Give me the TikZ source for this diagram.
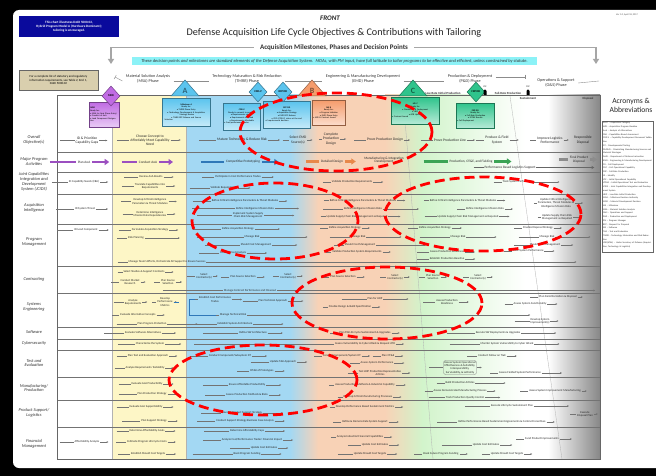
\documentclass[tikz,border=0pt]{standalone}
\usepackage{fontspec}
\setmainfont{Carlito}
\usetikzlibrary{shapes.geometric,arrows.meta}
\definecolor{ybg}{HTML}{FDF6C6}
\definecolor{bbg}{HTML}{A3D8F3}
\definecolor{pbg}{HTML}{F8D2B6}
\definecolor{gbg}{HTML}{D2F4CB}
\definecolor{navy}{HTML}{0A0A9C}
\definecolor{tanbox}{HTML}{D9CFAE}
\definecolor{cyanstrip}{HTML}{8CF2F7}
\definecolor{purp}{HTML}{C06BE3}
\definecolor{bluem}{HTML}{5BC4EE}
\definecolor{orangem}{HTML}{F59C6C}
\definecolor{greenm}{HTML}{2FC48C}
\definecolor{redl}{HTML}{FF0000}
\definecolor{mpurp}{HTML}{9B4FC0}
\definecolor{mblue}{HTML}{2F78B8}
\definecolor{morange}{HTML}{E8884A}
\definecolor{mgreen}{HTML}{3BA455}
\tikzset{
  act/.style={font=\fontsize{2.9}{3.3}\selectfont, align=center, inner sep=0.8pt, text=black!85},
  big/.style={act, font=\fontsize{3.4}{3.8}\selectfont},
  obj/.style={act, font=\fontsize{3.6}{4.1}\selectfont},
  actl/.style={draw=black!55, line width=0.28pt},
  acta/.style={actl, -{Stealth[length=1.8pt,width=1.7pt]}},
  rowlbl/.style={font=\fontsize{4.4}{4.9}\selectfont\itshape, align=center, text=black!80},
  rowline/.style={draw=black!55, line width=0.5pt},
  colline/.style={draw=black!30, line width=0.3pt},
  redell/.style={draw=redl, line width=2.8pt, dash pattern=on 10pt off 5pt},
  msbox/.style={draw=#1!60!black, line width=0.5pt, top color=#1, bottom color=#1!35, font=\fontsize{2.2}{2.6}\selectfont, align=left, inner sep=1pt, anchor=north west},
  phase/.style={font=\fontsize{4.2}{4.7}\selectfont, align=center, text=black!80},
  tline/.style={draw=black!45, line width=0.4pt},
  hdrarrow/.style={draw=black!35, line width=1.3pt, -{Triangle[length=5pt,width=6pt]}},
  diam/.style={diamond, draw=#1!60!black, fill=#1, line width=0.5pt, inner sep=0pt, minimum width=18pt, minimum height=20pt, font=\fontsize{2.8}{3}\selectfont\bfseries},
  tri/.style={draw=#1!60!black, fill=#1, line width=0.5pt},
  trilbl/.style={font=\fontsize{8}{8}\selectfont\bfseries, text=#1!50!black},
  hdr/.style={font=\fontsize{3.1}{3.5}\selectfont\bfseries, text=black!80},
}
\newcommand{\actx}[7][act]{%
  \node[#1] (#2) at (#3,#4) {#5};
  \draw[actl] ([xshift=-#6pt]#2.west) -- (#2.west);
  \draw[acta] (#2.east) -- ([xshift=#7pt]#2.east);}
\newcommand{\bigx}[7]{%
  \node[big] (#2) at (#3,#4) {#5};
  \draw[draw=#1, line width=2.6pt] ([xshift=-#6pt]#2.west) -- ([xshift=-1pt]#2.west);
  \draw[draw=#1, line width=2.6pt, -{Triangle[length=4.5pt,width=6pt]}] ([xshift=1pt]#2.east) -- ([xshift=#7pt]#2.east);}
\begin{document}
\begin{tikzpicture}[x=1pt,y=-1pt]
\useasboundingbox (0,0) rectangle (656,476);
% frame
\fill[black] (0,0) rectangle (656,476);
\fill[white, rounded corners=6pt] (13,10) rectangle (680,468);

% ---------- header ----------
\node[fill=navy, text=white, font=\fontsize{3.3}{3.9}\selectfont\bfseries, align=center, minimum width=100pt, minimum height=21pt, inner sep=0] (chartnote) at (69,26.5) {This chart illustrates DoDI 5000.02,\\Hybrid Program Model A (Hardware Dominant);\\tailoring is encouraged.};
\node[font=\fontsize{7}{8}\selectfont\bfseries\itshape, text=black!85] (front) at (330,18) {FRONT};
\node[font=\fontsize{2.4}{3}\selectfont, text=black!70] (ver) at (627,15) {Ver 1.0, April 18, 2017};
\node[font=\fontsize{10.2}{11}\selectfont, text=black!85] (title) at (334,33) {Defense Acquisition Life Cycle Objectives \& Contributions with Tailoring};
\node[font=\fontsize{7}{8}\selectfont\bfseries, text=black!80] (sub) at (334,47.5) {Acquisition Milestones, Phases and Decision Points};
\coordinate (hlEnd) at (111,64);
\coordinate (hrEnd) at (596,64);
\draw[hdrarrow] ([xshift=-3pt]sub.west) -| (hlEnd);
\draw[hdrarrow] ([xshift=3pt]sub.east) -| (hrEnd);
\node[fill=cyanstrip, font=\fontsize{4.5}{5}\selectfont\itshape, text=black!80, minimum width=405pt, minimum height=8pt, inner sep=0] (strip) at (334.5,61.5) {These decision points and milestones are standard elements of the Defense Acquisition System.\ \ MDAs, with PM input, have full latitude to tailor programs to be effective and efficient, unless constrained by statute.};
\node[fill=tanbox, draw=black!60, line width=0.4pt, font=\fontsize{3.1}{3.7}\selectfont, align=center, minimum width=79pt, minimum height=20pt, inner sep=0] (reqnote) at (58.5,80) {For a complete list of statutory and regulatory\\information requirements, see Table 2, Encl 1,\\DoDI 5000.02};

% phase timeline
\node[phase] (phMSA) at (148,79) {Material Solution Analysis\\(MSA) Phase};
\node[phase] (phTMRR) at (247,79) {Technology Maturation \& Risk Reduction\\(TMRR) Phase};
\node[phase] (phEMD) at (363,79) {Engineering \& Manufacturing Development\\(EMD) Phase};
\node[phase] (phPD) at (470,79) {Production \& Deployment\\(P\&D) Phase};
\node[phase] (phOS) at (556,83) {Operations \& Support\\(O\&S) Phase};
\coordinate (tl0) at (115,77);
\coordinate (tlEnd) at (599,81);
\draw[tline, |-] (tl0) -- ([yshift=-2pt]phMSA.west);
\draw[tline] ([yshift=-2pt]phMSA.east) -- ([yshift=-2pt]phTMRR.west);
\draw[tline] ([yshift=-2pt]phTMRR.east) -- ([yshift=-2pt]phEMD.west);
\draw[tline] ([yshift=-2pt]phEMD.east) -- ([yshift=-2pt]phPD.west);
\draw[tline, -|] ([yshift=2pt]phPD.east) -- ++(30,0);
\draw[tline] (phOS.east) -- (tlEnd);

% ---------- chart backgrounds ----------
\fill[white] (57,95) rectangle (600,459);
\fill[ybg] (112,95) rectangle (186,459);
\fill[bbg] (186,95) rectangle (290,459);
\shade[left color=bbg, right color=pbg] (290,95) rectangle (318,459);
\fill[pbg] (318,95) rectangle (385,459);
\shade[left color=pbg, right color=gbg] (385,95) rectangle (422,459);
\shade[left color=gbg, right color=white] (422,95) rectangle (525,459);
\shade[left color=white, right color=black!47] (548,95) rectangle (600,459);
\draw[colline] (403,96) -- (433,459);
\draw[colline] (510,96) -- (562,459);
\draw[colline] (112,95) -- (112,459);
\draw[colline] (186,95) -- (186,459);
\foreach \yy in {152,172,194,224,266,293,327,339,350,377,400,427}
  \draw[rowline] (57,\yy) -- (600,\yy);
\draw[draw=black!60, line width=0.6pt] (57,95) rectangle (600,459);

% ---------- milestone boxes ----------
\node[msbox=purp, text width=28pt, minimum height=25pt] (bMDD) at (89,102) {\textbf{MDD}\\Ready for:\\\textbullet\ MSA (or Next Phase Entry)\\\textbullet\ Conduct of AoA\\\textbullet\ Lead Component Designation};
\node[msbox=bluem, text width=46pt, minimum height=28pt] (bA) at (162,98) {\centering\textbf{Milestone A}\par Ready for:\\\textbullet\ TMRR Phase Entry\\\textbullet\ Technology Development \& Acquisition\\\ \ Strategy Review\\\textbullet\ TMRR RFP Release and Source\\\ \ Selection};
\node[msbox=bluem, text width=35pt, minimum height=27pt] (bCDDV) at (223,103) {\centering\textbf{CDD-V}\par Ready to commit to product:\\\textbullet\ Requirements specific\\\textbullet\ Requirements validated\\\textbullet\ Requirements affordable\\\textbullet\ Cost/performance trades};
\node[msbox=bluem, text width=45pt, minimum height=27pt] (bRFP) at (263,101) {\centering\textbf{RFP DD}\par Ready for:\\\textbullet\ Acquisition Strategy\\\textbullet\ EMD RFP Release\\\textbullet\ CDD (CDD-V) status at the end\\\ \ of requirements decision};
\node[msbox=orangem, text width=31pt, minimum height=25pt] (bB) at (312,100) {\centering\textbf{MS B}\par Ready for:\\\textbullet\ Program Initiation\\\textbullet\ EMD Phase Entry\\\textbullet\ APB \& Contract Award};
\node[msbox=greenm, text width=46pt, minimum height=27pt] (bC) at (391,97) {\centering\textbf{MS C}\par Ready for:\\\textbullet\ Production \& Deployment\\\textbullet\ LRIP\\\textbullet\ APB Update\\\textbullet\ Contract Award};
\node[msbox=greenm, text width=36pt, minimum height=25pt] (bFRP) at (456,103) {\centering\textbf{FRP DD}\par Ready for:\\\textbullet\ Full-Rate Production\\\textbullet\ IOT\&E Results\\\textbullet\ Full Deployment};

% milestone markers
\node[diam=purp] (mMDD) at (111,96) {MDD};
\filldraw[tri=bluem] (171,96) -- (185,80) -- (199,96) -- cycle;
\node[trilbl=bluem] (mA) at (185,90.5) {A};
\node[diam=bluem] (mCDDV) at (258,92) {CDD-V};
\node[diam=bluem] (mRFP) at (283,92) {RFP DD};
\filldraw[tri=orangem] (298,96) -- (312,80) -- (326,96) -- cycle;
\node[trilbl=orangem] (mB) at (312,90.5) {B};
\filldraw[tri=greenm] (399,96) -- (413,80) -- (427,96) -- cycle;
\node[trilbl=greenm] (mC) at (413,90.5) {C};
\node[diam=greenm] (mFRP) at (476,92) {FRP DD};
\node[hdr] (lrip) at (443,93) {Low-Rate Initial Production};
\node[hdr] (frp) at (508,93) {Full-Rate Production};
\node[hdr, font=\fontsize{2.4}{2.6}\selectfont] (ioc) at (485,86.5) {IOC};
\node[hdr, font=\fontsize{2.4}{2.6}\selectfont] (foc) at (528,86.5) {FOC};
\fill[black] (483.5,95) -- (486.5,95) -- (486.5,91) -- (485,89.3) -- (483.5,91) -- cycle;
\fill[black] (526.5,95) -- (529.5,95) -- (529.5,91) -- (528,89.3) -- (526.5,91) -- cycle;
\node[hdr] (sust) at (528,98.5) {Sustainment};
\node[hdr] (disp) at (588,98.5) {Disposal};

% ---------- row labels ----------
\node[rowlbl] (L1) at (34,140) {Overall\\Objective(s)};
\node[rowlbl] (L2) at (34,161.5) {Major Program\\Activities};
\node[rowlbl] (L3) at (34,182) {Joint Capabilities\\Integration and\\Development\\System (JCIDS)};
\node[rowlbl] (L4) at (34,208) {Acquisition\\Intelligence};
\node[rowlbl] (L5) at (34,242) {Program\\Management};
\node[rowlbl] (L6) at (34,279) {Contracting};
\node[rowlbl] (L7) at (34,307) {Systems\\Engineering};
\node[rowlbl] (L8) at (34,332) {Software};
\node[rowlbl] (L9) at (34,343.5) {Cybersecurity};
\node[rowlbl] (L10) at (34,363) {Test and\\Evaluation};
\node[rowlbl] (L11) at (34,388) {Manufacturing/\\Production};
\node[rowlbl] (L12) at (34,413) {Product Support/\\Logistics};
\node[rowlbl] (L13) at (34,444) {Financial\\Management};

% ---------- Overall objectives ----------
\actx[obj]{o1}{87}{140.5}{ID \& Prioritize\\Capability Gaps}{15}{8}
\actx[obj]{o2}{150}{140}{Choose Concept to\\Affordably Meet Capability\\Need}{12}{10}
\actx[obj]{o3}{242}{140}{Mature Technology \& Reduce Risk}{17}{12}
\actx[obj]{o4}{298}{140}{Select EMD\\Source(s)}{6}{5}
\actx[obj]{o5}{331}{139}{Complete\\Production\\Design}{3}{6}
\actx[obj]{o6}{385}{140}{Prove Production Design}{12}{6}
\actx[obj]{o7}{450}{140}{Prove Production Line}{12}{8}
\actx[obj]{o8}{497}{140}{Produce \& Field\\System}{8}{9}
\actx[obj]{o9}{550}{140}{Improve Logistics\\Performance}{6}{5}
\node[obj] (o10) at (583,140) {Responsible\\Disposal};

% ---------- Major program activities ----------
\bigx{mpurp}{m1}{84}{162}{Plan AoA}{27}{18}
\bigx{mpurp}{m2}{148}{162}{Conduct AoA}{16}{15}
\bigx{mblue}{m3}{243}{162}{Competitive Prototyping}{24}{18}
\bigx{morange}{m4}{332}{161.5}{Detailed Design}{14}{12}
\node[big] (m5) at (384,160) {Manufacturing \& Integration\\Development};
\bigx{mgreen}{m6}{471}{161.5}{Production, OT\&E, and Fielding}{25}{18}
\bigx{black!45}{m7}{579}{159.5}{Final Product\\Disposal}{10}{8}
\node[big] (m8) at (510,167.5) {Performance Based Logistics Support};
\draw[draw=black!60, line width=0.9pt] ([xshift=-10pt]m8.west) -- (m8.west);
\draw[draw=black!60, line width=0.9pt, -{Stealth[length=3pt,width=3pt]}] (m8.east) -- ([xshift=58pt]m8.east);

% ---------- JCIDS ----------
\actx{j1}{84}{182}{ID Capability Needs (CBA)}{16}{8}
\actx{j2}{151}{177}{Review AoA Results}{14}{10}
\actx{j3}{150}{186}{Translate Capabilities into\\Requirements}{12}{9}
\actx{j4}{238}{177}{Participate in Cost Performance Trades}{12}{12}
\actx{j5}{224}{188}{Validate Requirements}{20}{12}
\actx{j6}{352}{182}{Validate Production Requirements}{8}{10}
\actx{j7}{518}{182}{Track System Performance}{8}{25}

% ---------- Acquisition intelligence ----------
\actx{a1}{85}{209}{ID System Threat}{18}{12}
\actx{a2}{150}{201.5}{Develop Critical Intelligence\\Parameters \& Threat Modules}{10}{8}
\actx{a3}{150}{214}{Determine Intelligence\\Mission Data Dependencies}{10}{8}
\actx{a4}{245}{201}{Refine Critical Intelligence Parameters \& Threat Modules}{18}{8}
\actx{a5}{255}{208.5}{Refine Intelligence Mission Data}{43}{24}
\actx{a6}{248}{215.5}{Implement System Supply\\Chain Risk Management}{35}{30}
\actx{a7}{363}{200.5}{Refine Critical Intelligence Parameters \& Threat Modules}{5}{8}
\actx{a8}{363}{209}{Refine Intelligence Mission Data}{20}{36}
\actx{a9}{357}{216.5}{Update Supply Chain Risk Management as Required}{5}{12}
\actx{a10}{463}{200.5}{Refine Critical Intelligence Parameters \& Threat Modules}{5}{8}
\actx{a11}{485}{209}{Refine Intelligence Mission Data}{8}{8}
\actx{a12}{468}{216.5}{Update Supply Chain Risk Management as Required}{12}{10}
\actx{a13}{556}{203}{Update Critical Intelligence\\Parameters, Threat Modules \&\\Intelligence Mission Data}{3}{8}
\actx{a14}{557}{217}{Update Supply Chain Risk\\Management as Required}{3}{8}

% ---------- Program management ----------
\actx{p1}{86}{230}{ID Lead Component}{16}{10}
\actx{p2}{150}{230}{Formulate Acquisition Strategy}{12}{9}
\actx{p3}{136}{238}{Risk Planning}{10}{35}
\actx{p4}{238}{229}{Refine Acquisition Strategy}{28}{25}
\actx{p5}{252}{237}{Manage Risk}{47}{47}
\actx{p6}{256}{245}{Should Cost Management}{35}{25}
\actx{p7}{233}{253}{Conduct Cost Analysis}{20}{20}
\actx{p8}{167}{262}{Manage Team's Efforts, Orchestrate All Support to Ensure Success}{10}{370}
\actx{p9}{345}{228}{Refine Acquisition Strategy}{8}{8}
\actx{p10}{358}{237}{Manage Risk}{20}{35}
\actx{p11}{360}{245}{Should Cost Management}{10}{50}
\actx{p12}{357}{252}{Validate Production System Requirements}{5}{8}
\actx{p13}{435}{228}{Refine Acquisition Strategy}{10}{10}
\actx{p14}{458}{237}{Manage Risk}{30}{30}
\actx{p16}{447}{252}{Assess Production Readiness}{12}{10}
\actx{p17}{447}{259}{Establish Production Baseline}{12}{10}
\actx{p18}{538}{228}{Finalize Disposal Strategy}{8}{8}
\actx{p19}{547}{237}{Manage Risk}{20}{35}
\actx{p20}{545}{245}{Should Cost Management}{15}{12}
\actx{p21}{528}{251}{Track System Performance}{8}{10}

% ---------- Contracting ----------
\actx{c1}{144}{272}{Select Studies \& Support Contracts}{5}{8}
\actx{c2}{130}{282}{Conduct Market\\Research}{8}{5}
\actx{c3}{168}{282}{Plan Source\\Selection}{6}{6}
\actx{c4}{204}{276}{Select\\Contractor(s)}{8}{5}
\actx{c5}{243}{277}{Plan Source Selection}{8}{8}
\actx{c6}{288}{276}{Select\\Contractor(s)}{6}{6}
\actx{c8}{343}{277}{Plan Source Selection}{8}{8}
\actx{c9}{395}{277}{Select\\Contractor(s)}{6}{6}
\actx{c10}{433}{277}{Plan Source\\Selection}{6}{6}
\actx{c11}{478}{277}{Select\\Contractor(s)}{6}{6}
\actx{c7}{250}{290.5}{Manage Contract Performance and Closeout}{60}{318}

% ---------- Systems engineering ----------
\actx{s1}{133}{302}{Analyze\\Requirements}{10}{5}
\actx{s2}{165}{302}{Develop\\Performance\\Metrics}{4}{3}
\actx{s3}{138}{315}{Evaluate Alternative Concepts}{7}{8}
\actx{s4}{152}{324}{Plan Program Protection}{20}{30}
\actx{s5}{215}{299.5}{Establish Cost Performance\\Trades}{3}{10}
\actx{s6}{273}{301}{Plan Technical Approach}{15}{15}
\actx{s7}{233}{315}{Manage Technical Risk}{3}{283}
\coordinate (brkTop) at (189,299.5);
\coordinate (brkBot) at (189,315);
\draw[actl, draw=mblue] (s2.east) -- ++(5,0);
\draw[actl, draw=mblue] ([xshift=-3pt]s5.west) -- (brkTop) -- (brkBot) -- ([xshift=-3pt]s7.west);
\actx{s8}{235}{324}{Establish System Architecture}{25}{30}
\actx{s9}{375}{299}{Plan for LRIP}{25}{25}
\actx{s10}{350}{307}{Finalize Design \& Build Specification}{5}{8}
\actx{s11}{447}{302}{Assess Production\\Readiness}{12}{10}
\actx{s12}{558}{297}{Plan Demilitarization \& Disposal}{8}{5}
\actx{s13}{530}{304}{Assess System Functionality}{8}{10}
\actx{s14}{540}{321}{Develop System\\Improvement(s)}{15}{8}

% ---------- Software ----------
\actx{w1}{143}{333}{Evaluate Software Alternatives}{20}{14}
\actx{w2}{253}{333}{Define SW Architecture}{35}{15}
\actx{w3}{365}{333}{Plan SW Life Cycle Sustainment \& Upgrades}{8}{8}
\actx{w4}{498}{333}{Execute SW Deployments \& Upgrades}{28}{35}

% ---------- Cybersecurity ----------
\actx{y1}{150}{344}{Characterize the System}{17}{16}
\actx{y2}{365}{344}{Assess Vulnerability to Cyber Attack \& Request ATO}{140}{8}
\actx{y3}{507}{344}{Monitor System Vulnerability to Cyber Attack}{30}{25}

% ---------- Test and evaluation ----------
\actx{t1}{148}{356}{Plan Test and Evaluation Approach}{10}{8}
\actx{t2}{145}{368}{Analyze Requirements Testability}{10}{8}
\actx{t3}{230}{356}{Conduct Component/Subsystem DT}{18}{15}
\actx{t4}{283}{362}{Update T\&E Approach}{18}{10}
\actx{t5}{262}{371}{DT\&E of Prototypes}{12}{10}
\actx{t6}{342}{356}{Conduct Component/System DT}{8}{8}
\actx{t7}{388}{356}{Plan OT\&E}{8}{8}
\actx{t8}{377}{363}{Assess System Performance}{10}{10}
\actx{t9}{380}{373}{Test LRIP Production Representative\\Articles}{10}{8}
\node[act, draw=black!50, rounded corners=2pt, line width=0.3pt] (t11) at (460,367.5) {Assess System Operational\\Effectiveness \& Suitability,\\Interoperability,\\Survivability, \& Lethality};
\draw[actl] ([xshift=-14pt]t11.west) -- (t11.west);
\draw[acta] (t11.east) -- ([xshift=5pt]t11.east);
\actx{t10}{492}{356}{Conduct Follow on T\&E}{10}{10}
\actx{t12}{520}{373}{Assess Fielded System Performance}{8}{20}

% ---------- Manufacturing / production ----------
\actx{f1}{147}{384}{Evaluate AoA Producibility}{12}{10}
\actx{f2}{152}{394}{Plan Production Strategy}{18}{10}
\actx{f3}{247}{385}{Ensure Affordable Producibility}{25}{15}
\actx{f4}{247}{395}{Assess Production Methods \& Risks}{20}{12}
\actx{f5}{365}{385}{Assess Production Methods \& Industrial Capability}{5}{10}
\actx{f6}{368}{397}{Develop Critical Manufacturing Processes}{5}{8}
\actx{f7}{460}{383}{Build Production Articles}{8}{30}
\actx{f8}{460}{391}{Assess Demonstrated Manufacturing Process}{8}{8}
\actx{f9}{465}{397.5}{Track Production Quality Control}{16}{15}
\actx{f10}{555}{391}{Assess System Improvement Manufacturing}{8}{5}

% ---------- Product support ----------
\actx{l1}{146}{407}{Evaluate AoA Supportability}{12}{10}
\actx{l2}{154}{421}{Plan Support Strategy}{18}{10}
\actx{l3}{242}{413}{Develop Product Support Strategy}{20}{20}
\actx{l4}{245}{421}{Conduct Support Strategy Business Case Analysis}{18}{10}
\actx{l5}{365}{407}{Develop Performance Based Sustainment Metrics}{5}{8}
\actx{l6}{365}{422}{Refine \& Demonstrate System Support}{8}{10}
\actx{l7}{512}{406}{Execute Life Cycle Sustainment Plan}{25}{35}
\actx{l8}{502}{422}{Refine Performance Based Sustainment Agreements \& Contract Incentives}{20}{8}
\actx{l9}{585}{414}{Execute\\Disposal Plan}{6}{4}

% ---------- Financial management ----------
\actx{n1}{87}{442}{Affordability Analysis}{14}{8}
\actx{n2}{147}{431}{Determine Affordability Goals}{12}{10}
\actx{n3}{147}{442}{Estimate Program Life Cycle Costs}{10}{8}
\actx{n4}{148}{454}{Establish Should Cost Targets}{12}{10}
\actx{n5}{247}{431}{Determine Affordability Caps}{25}{20}
\actx{n6}{252}{440}{Analyze Cost/Performance Trades' Financial Impact}{18}{10}
\actx{n7}{264}{448}{Update Cost Estimates}{20}{10}
\actx{n8}{247}{454}{Book Program Funding}{40}{20}
\actx{n9}{360}{437}{Analyze Industrial Financial Capabilities}{5}{8}
\actx{n10}{375}{445}{Update Cost Estimates}{13}{10}
\actx{n11}{370}{454}{Update Should Cost Targets}{15}{10}
\actx{n12}{486}{445}{Update Cost Estimates}{30}{12}
\actx{n13}{441}{454}{Book Future Program Funding}{8}{8}
\actx{n14}{507}{454}{Update Should Cost Targets}{8}{8}
\actx{n15}{542}{439}{Fund Product Improvements}{8}{12}

% ---------- acronyms ----------
\node[font=\fontsize{7.6}{9}\selectfont, text=black!85, align=center] (acrtitle) at (631,105.5) {Acronyms \&\\Abbreviations};
\node[draw=black!60, line width=0.4pt, anchor=north west, minimum width=51pt, minimum height=131pt, inner sep=0] (acrbox) at (602,121) {};
\node[anchor=north west, text width=49pt, inner sep=1pt, font=\fontsize{2.3}{3.75}\selectfont, align=left, text=black!80] (acrlist) at (acrbox.north west) {%
ACAT -- Acquisition Category\\
APB -- Acquisition Program Baseline\\
AoA -- Analysis of Alternatives\\
CBA -- Capabilities Based Assessment\\
CDD-V -- Capability Development Document Validation\\
DT -- Developmental Testing\\
DMSMS -- Diminishing Manufacturing Sources and Material Shortages\\
DoDI -- Department of Defense Instruction\\
EMD -- Engineering \& Manufacturing Development\\
FD -- Full Deployment\\
FOC -- Full Operational Capability\\
FRP -- Full-Rate Production\\
ID -- Identify\\
IOC -- Initial Operational Capability\\
IOT\&E -- Initial Operational Test and Evaluation\\
JCIDS -- Joint Capabilities Integration and Development System\\
LRIP -- Low-Rate Initial Production\\
MDA -- Milestone Decision Authority\\
MDD -- Materiel Development Decision\\
MS -- Milestone\\
MSA -- Materiel Solution Analysis\\
O\&S -- Operations and Support\\
P\&D -- Production and Deployment\\
PM -- Program Manager\\
RFP -- Request for Proposal\\
SW -- Software\\
T\&E -- Test and Evaluation\\
TMRR -- Technology Maturation and Risk Reduction\\
USD(AT\&L) -- Under Secretary of Defense (Acquisition, Technology \& Logistics)};

% ---------- red annotation ellipses ----------
\draw[redell] (336,132) ellipse [x radius=96pt, y radius=39pt];
\draw[redell] (275,221) ellipse [x radius=83pt, y radius=38pt];
\draw[redell] (483,214) ellipse [x radius=98pt, y radius=37pt];
\draw[redell] (387,303) ellipse [x radius=95pt, y radius=36pt];
\draw[redell] (263,380) ellipse [x radius=94pt, y radius=35pt];
\end{tikzpicture}
\end{document}
